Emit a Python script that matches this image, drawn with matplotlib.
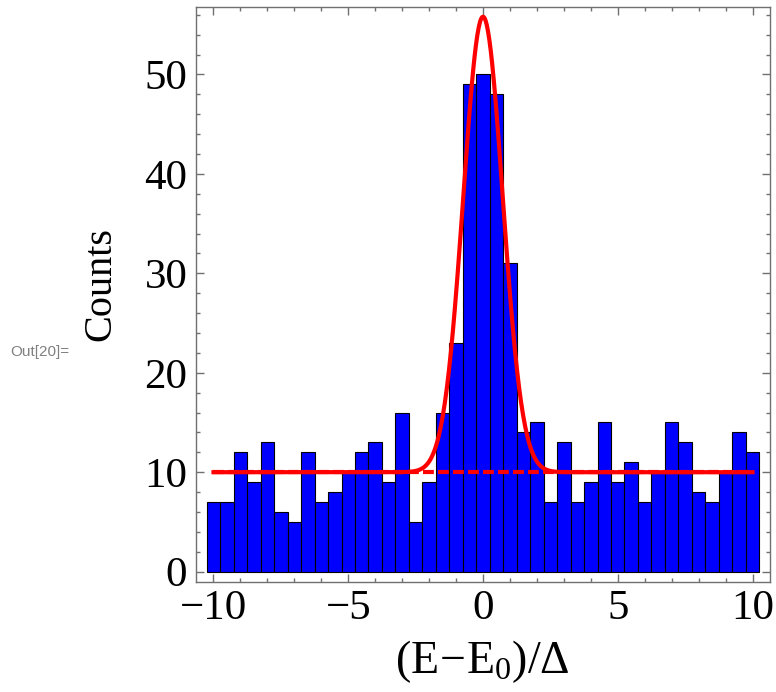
import numpy as np
import matplotlib.pyplot as plt
from matplotlib.ticker import MultipleLocator

# histogram data (bin width 0.5, centred on -10 ... 10)
bin_width = 0.5
bin_centers = np.arange(-10, 10 + bin_width / 2, bin_width)
counts = [7, 7, 12, 9, 13, 6, 5, 12, 7, 8,
          10, 12, 13, 9, 16, 5, 9, 16, 23, 49,
          50, 48, 31, 14, 15, 7, 13, 7, 9, 15,
          9, 11, 7, 10, 15, 13, 8, 7, 10, 14, 12]

# fitted model: flat background + gaussian peak
background = 10.0
amplitude = 45.8
center = 0.0
sigma = 0.73
fit_range = (-10, 10)

plt.rcParams['font.family'] = ['Liberation Serif', 'DejaVu Serif']
plt.rcParams['mathtext.fontset'] = 'custom'
plt.rcParams['mathtext.rm'] = 'Liberation Serif'
plt.rcParams['mathtext.it'] = 'Liberation Serif:italic'

frame_color = '#707070'

fig = plt.figure(figsize=(7.76, 6.92), dpi=100)
ax = fig.add_axes([0.2522, 0.1585, 0.7401, 0.831])

ax.bar(bin_centers, counts, width=bin_width, color='#0000ff',
       edgecolor='black', linewidth=0.8, zorder=2)

x_fit = np.linspace(fit_range[0], fit_range[1], 800)
y_fit = background + amplitude * np.exp(-(x_fit - center) ** 2 / (2 * sigma ** 2))
ax.plot(fit_range, [background, background], color='red', linewidth=3,
        linestyle=(0, (2.6, 1.0)), zorder=3)
ax.plot(x_fit, y_fit, color='red', linewidth=3, zorder=4)

ax.set_xlim(-10.66, 10.65)
ax.set_ylim(-1.07, 56.75)

ax.xaxis.set_major_locator(MultipleLocator(5))
ax.xaxis.set_minor_locator(MultipleLocator(1))
ax.yaxis.set_major_locator(MultipleLocator(10))
ax.yaxis.set_minor_locator(MultipleLocator(2))

ax.tick_params(which='both', direction='in', top=True, right=True,
               color=frame_color, width=1.0, labelsize=31)
ax.tick_params(which='major', length=6)
ax.tick_params(which='minor', length=3)
ax.tick_params(axis='x', pad=5)
ax.tick_params(axis='y', pad=6)

for s in ax.spines.values():
    s.set_color(frame_color)
    s.set_linewidth(1.0)

ax.set_xticks([-10, -5, 0, 5, 10])
ax.set_xticklabels(['\u221210', '\u22125', '0', '5', '10'])

fig.text(101 / 776, 1 - 284 / 692, 'Counts', rotation=90,
         ha='center', va='center', fontsize=29)
fig.text(482 / 776, 1 - 662 / 692, r'$\mathrm{(E\!-\!E_0)/\Delta}$',
         ha='center', va='center', fontsize=33)
fig.text(10 / 776, 1 - 352 / 692, 'Out[20]=', ha='left', va='center',
         fontsize=11, color='#808080', family='Liberation Sans')

fig.savefig('out.png', dpi=100)
